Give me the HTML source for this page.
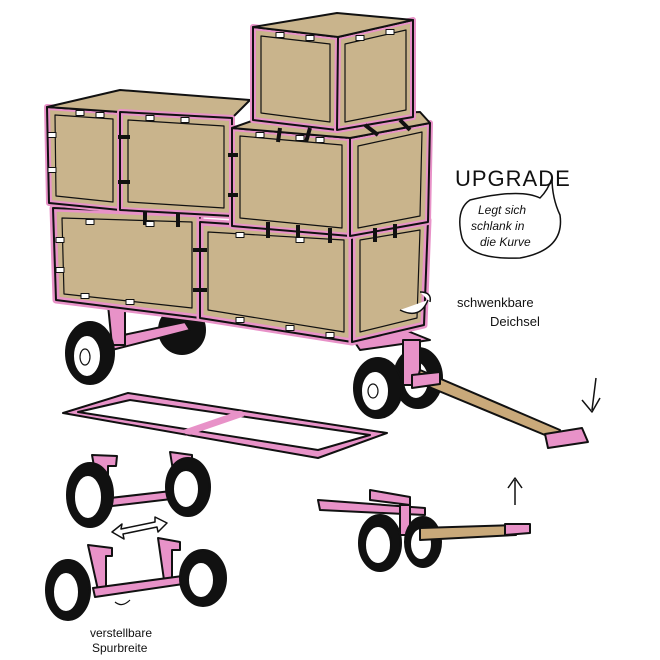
<!DOCTYPE html>
<html><head><meta charset="utf-8"><style>
html,body{margin:0;padding:0;background:#fff;width:660px;height:660px;overflow:hidden}
svg{display:block}
text{font-family:"Liberation Sans",sans-serif;fill:#111}
</style></head><body>
<svg width="660" height="660" viewBox="0 0 660 660" xmlns="http://www.w3.org/2000/svg">
<defs>
<g id="tab"><rect x="-4" y="-2.5" width="8" height="5" fill="#fff" stroke="#111" stroke-width="1"/></g>
</defs>
<g stroke="#111" stroke-width="2" stroke-linejoin="round">
<ellipse cx="182" cy="330" rx="23" ry="24" fill="#111"/>
<ellipse cx="418" cy="378" rx="24" ry="30" fill="#111"/>
<ellipse cx="416" cy="380" rx="13" ry="19" fill="#fff"/>
<path d="M100 340 L185 322 L190 330 L104 352 Z" fill="#e892c8"/>
<path d="M108 305 L125 305 L125 345 L112 345 Z" fill="#e892c8"/>
<path d="M350 335 L405 330 L430 340 L360 350 Z" fill="#e892c8"/>
<path d="M403 340 L420 340 L420 385 L403 385 Z" fill="#e892c8"/>
<polygon points="53,208 200,214 200,318 56,300" fill="#c9b48c" stroke="#e892c8" stroke-width="7"/>
<polygon points="53,208 200,214 200,318 56,300" fill="none"/>
<polygon points="62,218 192,222 192,308 64,294" fill="none" stroke-width="1.2"/>
<polygon points="200,222 352,232 352,342 200,318" fill="#c9b48c" stroke="#e892c8" stroke-width="7"/>
<polygon points="200,222 352,232 352,342 200,318" fill="none"/>
<polygon points="208,232 344,240 344,332 208,310" fill="none" stroke-width="1.2"/>
<polygon points="352,232 428,220 424,325 352,342" fill="#c9b48c" stroke="#e892c8" stroke-width="7"/>
<polygon points="352,232 428,220 424,325 352,342" fill="none"/>
<polygon points="360,240 420,230 417,318 360,332" fill="none" stroke-width="1.2"/>
<polygon points="47,107 120,112 120,210 49,203" fill="#c9b48c" stroke="#e892c8" stroke-width="6"/>
<polygon points="47,107 120,112 120,210 49,203" fill="none"/>
<polygon points="55,115 113,119 113,202 56,196" fill="none" stroke-width="1.2"/>
<polygon points="47,107 120,90 250,100 232,118 120,112" fill="#c9b48c"/>
<polygon points="120,112 232,118 232,216 120,210" fill="#c9b48c" stroke="#e892c8" stroke-width="6"/>
<polygon points="120,112 232,118 232,216 120,210" fill="none"/>
<polygon points="128,120 224,126 224,208 128,202" fill="none" stroke-width="1.2"/>
<polygon points="232,128 350,138 350,236 232,226" fill="#c9b48c" stroke="#e892c8" stroke-width="6"/>
<polygon points="232,128 350,138 350,236 232,226" fill="none"/>
<polygon points="240,136 342,145 342,228 240,218" fill="none" stroke-width="1.2"/>
<polygon points="350,138 430,123 428,222 350,236" fill="#c9b48c" stroke="#e892c8" stroke-width="6"/>
<polygon points="350,138 430,123 428,222 350,236" fill="none"/>
<polygon points="358,146 422,132 420,216 358,228" fill="none" stroke-width="1.2"/>
<polygon points="232,128 260,118 420,112 430,123 350,138" fill="#c9b48c"/>
<polygon points="253,27 338,37 337,130 253,120" fill="#c9b48c" stroke="#e892c8" stroke-width="6"/>
<polygon points="253,27 338,37 337,130 253,120" fill="none"/>
<polygon points="261,36 330,44 330,122 261,113" fill="none" stroke-width="1.2"/>
<polygon points="338,37 413,20 413,117 337,130" fill="#c9b48c" stroke="#e892c8" stroke-width="6"/>
<polygon points="338,37 413,20 413,117 337,130" fill="none"/>
<polygon points="345,44 406,30 406,110 345,122" fill="none" stroke-width="1.2"/>
<polygon points="253,27 337,13 413,20 338,37" fill="#c9b48c"/>
<g stroke-width="4">
<line x1="118" y1="137" x2="130" y2="137"/><line x1="118" y1="182" x2="130" y2="182"/>
<line x1="193" y1="250" x2="207" y2="250"/><line x1="193" y1="290" x2="207" y2="290"/>
<line x1="280" y1="128" x2="278" y2="142"/><line x1="310" y1="128" x2="306" y2="142"/>
<line x1="365" y1="125" x2="378" y2="135"/><line x1="400" y1="120" x2="410" y2="130"/>
<line x1="228" y1="155" x2="238" y2="155"/><line x1="228" y1="195" x2="238" y2="195"/>
<line x1="145" y1="212" x2="145" y2="225"/><line x1="178" y1="214" x2="178" y2="227"/>
<line x1="268" y1="222" x2="268" y2="238"/><line x1="298" y1="225" x2="298" y2="240"/><line x1="330" y1="228" x2="330" y2="243"/>
<line x1="375" y1="228" x2="375" y2="242"/><line x1="395" y1="224" x2="395" y2="238"/>
</g>
<g stroke-width="1">
<use href="#tab" x="80" y="113"/><use href="#tab" x="100" y="115"/><use href="#tab" x="150" y="118"/><use href="#tab" x="185" y="120"/>
<use href="#tab" x="260" y="135"/><use href="#tab" x="300" y="138"/><use href="#tab" x="320" y="140"/>
<use href="#tab" x="280" y="35"/><use href="#tab" x="310" y="38"/><use href="#tab" x="360" y="38"/><use href="#tab" x="390" y="32"/>
<use href="#tab" x="90" y="222"/><use href="#tab" x="150" y="224"/><use href="#tab" x="240" y="235"/><use href="#tab" x="300" y="240"/>
<use href="#tab" x="85" y="296"/><use href="#tab" x="130" y="302"/><use href="#tab" x="240" y="320"/><use href="#tab" x="290" y="328"/><use href="#tab" x="330" y="335"/>
<use href="#tab" x="60" y="240"/><use href="#tab" x="60" y="270"/><use href="#tab" x="52" y="135"/><use href="#tab" x="52" y="170"/>
</g>
<path d="M400 310 Q420 320 428 300 M420 292 Q432 292 430 302" fill="#fff" stroke-width="1.5"/>
<polygon points="420,370 560,430 557,440 417,382" fill="#c9a97a"/>
<path d="M545 434 L582 428 L588 442 L548 448 Z" fill="#e892c8"/>
<path d="M412 375 L440 372 L440 384 L412 388 Z" fill="#e892c8"/>
<ellipse cx="90" cy="353" rx="24" ry="31" fill="#111"/>
<ellipse cx="87" cy="356" rx="14" ry="21" fill="#fff"/><ellipse cx="85" cy="357" rx="5" ry="8" fill="none" stroke-width="1.2"/>
<ellipse cx="378" cy="388" rx="24" ry="30" fill="#111"/>
<ellipse cx="375" cy="391" rx="14" ry="20" fill="#fff"/><ellipse cx="373" cy="391" rx="5" ry="7" fill="none" stroke-width="1.2"/>
<path d="M63 413 L128 393 L387 433 L318 458 Z" fill="#e892c8"/>
<path d="M78 412 L130 400 L370 435 L318 450 Z" fill="#fff"/>
<line x1="185" y1="433" x2="243" y2="413" stroke-width="7" stroke="#e892c8"/>
<path d="M63 413 L128 393 L387 433 L318 458 Z" fill="none" stroke-width="1.2"/>
<path d="M92 455 L117 456 L116 466 L108 466 L108 500 L100 500 Z" fill="#e892c8"/>
<path d="M170 452 L192 455 L192 463 L185 463 L185 495 L177 495 Z" fill="#e892c8"/>
<path d="M110 498 L180 490 L180 498 L112 506 Z" fill="#e892c8"/>
<ellipse cx="90" cy="495" rx="23" ry="32" fill="#111"/><ellipse cx="88" cy="497" rx="14" ry="22" fill="#fff"/>
<ellipse cx="188" cy="487" rx="22" ry="29" fill="#111"/><ellipse cx="186" cy="489" rx="13" ry="19" fill="#fff"/>
<path d="M88 545 L112 548 L112 556 L106 556 L106 590 L98 590 Z" fill="#e892c8"/>
<path d="M158 538 L180 542 L180 550 L172 550 L172 580 L164 580 Z" fill="#e892c8"/>
<path d="M93 588 L190 575 L190 583 L95 597 Z" fill="#e892c8"/>
<ellipse cx="68" cy="590" rx="22" ry="30" fill="#111"/><ellipse cx="66" cy="592" rx="13" ry="20" fill="#fff"/>
<ellipse cx="203" cy="578" rx="23" ry="28" fill="#111"/><ellipse cx="201" cy="580" rx="13" ry="18" fill="#fff"/>
<path d="M112 532 L122 524 L121 529 L155 522 L155 517 L167 523 L158 532 L157 527 L123 534 L124 539 Z" fill="#fff" stroke-width="1.5"/>
<path d="M115 602 Q122 608 130 600" fill="none" stroke-width="1.2"/>
<path d="M318 500 L425 508 L425 515 L320 510 Z" fill="#e892c8"/>
<path d="M370 490 L410 497 L410 505 L370 500 Z" fill="#e892c8"/>
<path d="M400 505 L410 505 L410 535 L400 535 Z" fill="#e892c8"/>
<ellipse cx="423" cy="542" rx="18" ry="25" fill="#111"/><ellipse cx="421" cy="544" rx="11" ry="16" fill="#fff"/>
<polygon points="420,528 515,525 516,535 420,540" fill="#c9a97a"/>
<path d="M505 524 L530 524 L530 533 L505 535 Z" fill="#e892c8"/>
<ellipse cx="380" cy="543" rx="21" ry="28" fill="#111"/><ellipse cx="378" cy="545" rx="13" ry="19" fill="#fff"/>
<path d="M596 378 L592 410 M582 400 L592 412 L600 398 M515 505 L515 480 M508 488 L515 478 L522 488" fill="none" stroke-width="1.5"/>
<path d="M470 200 Q520 188 540 198 Q548 190 552 178 Q552 198 560 215 Q565 250 520 258 Q470 260 462 238 Q455 210 470 200 Z" fill="none" stroke-width="1.5"/>
</g>
<text x="455" y="186" font-size="22" letter-spacing="1">UPGRADE</text>
<text x="478" y="214" font-size="12" font-style="italic">Legt sich</text>
<text x="471" y="230" font-size="12" font-style="italic">schlank in</text>
<text x="480" y="246" font-size="12" font-style="italic">die Kurve</text>
<text x="457" y="307" font-size="13">schwenkbare</text>
<text x="490" y="326" font-size="13">Deichsel</text>
<text x="90" y="637" font-size="12">verstellbare</text>
<text x="92" y="652" font-size="12">Spurbreite</text>
</svg>
</body></html>
